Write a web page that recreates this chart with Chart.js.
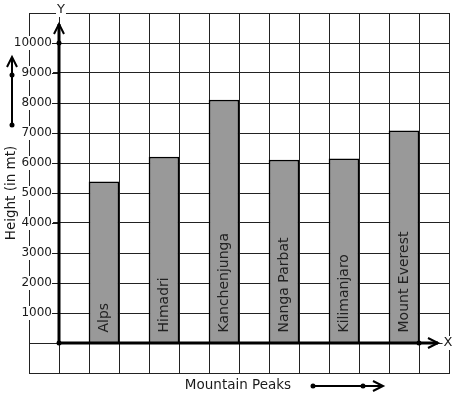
<!DOCTYPE html>
<html>
<head>
<meta charset="utf-8">
<script src="https://cdn.jsdelivr.net/npm/chart.js@4"></script>
<style>
  html, body { margin: 0; padding: 0; background: #fff; }
  #wrap { width: 457px; height: 399px; }
</style>
</head>
<body>
<div id="wrap"><canvas id="peaks"></canvas></div>
<script>
// data
const peaks = ["Alps", "Himadri", "Kanchenjunga", "Nanga Parbat", "Kilimanjaro", "Mount Everest"];
const heights = [5370, 6200, 8100, 6100, 6140, 7070];
const yTicks = [1000, 2000, 3000, 4000, 5000, 6000, 7000, 8000, 9000, 10000];

// graph paper: 14 columns, every second one holds a bar
const slotCount = 14;
const slotLabels = [];
const slotValues = [];
for (let i = 0; i < slotCount; i++) { slotLabels.push(""); slotValues.push(null); }
peaks.forEach(function (p, i) {
  slotLabels[2 + 2 * i] = p;
  slotValues[2 + 2 * i] = heights[i];
});

const FONT = "DejaVu Sans, sans-serif";
const INK = "#1a1a1a";

function dot(ctx, x, y) {
  ctx.beginPath();
  ctx.arc(x, y, 2.5, 0, Math.PI * 2);
  ctx.fill();
}

function chevron(ctx, x, y, dir) {
  ctx.beginPath();
  if (dir === "up") {
    ctx.moveTo(x - 5, y + 10); ctx.lineTo(x, y); ctx.lineTo(x + 5, y + 10);
  } else {
    ctx.moveTo(x - 10, y - 5); ctx.lineTo(x, y); ctx.lineTo(x - 10, y + 5);
  }
  ctx.stroke();
}

function boxedText(ctx, text, x, y, align) {
  ctx.textAlign = align;
  ctx.textBaseline = "middle";
  const w = ctx.measureText(text).width;
  const left = align === "right" ? x - w : (align === "center" ? x - w / 2 : x);
  ctx.fillStyle = "#fff";
  ctx.fillRect(left - 1, y - 7, w + 2, 14);
  ctx.fillStyle = INK;
  ctx.fillText(text, x, y);
}

const overlay = {
  id: "overlay",
  afterDraw: function (chart) {
    const ctx = chart.ctx;
    const xs = chart.scales.x;
    const ys = chart.scales.y;
    const ox = xs.getPixelForValue(0.5);
    const oy = ys.getPixelForValue(0);
    ctx.save();

    // bar names, rotated inside bars
    const meta = chart.getDatasetMeta(0);
    ctx.font = "14px " + FONT;
    ctx.fillStyle = "#222";
    meta.data.forEach(function (bar, i) {
      if (slotValues[i] === null) return;
      ctx.save();
      ctx.translate(bar.x, bar.base - 10);
      ctx.rotate(-Math.PI / 2);
      ctx.textAlign = "left";
      ctx.textBaseline = "middle";
      ctx.fillText(slotLabels[i], 0, 0);
      ctx.restore();
    });

    // y tick labels with little ticks
    ctx.font = "12px " + FONT;
    yTicks.forEach(function (v) {
      const py = ys.getPixelForValue(v);
      boxedText(ctx, String(v), 52, py, "right");
      ctx.strokeStyle = INK;
      ctx.lineWidth = 1;
      ctx.beginPath();
      ctx.moveTo(52, Math.round(py) + 0.5);
      ctx.lineTo(ox, Math.round(py) + 0.5);
      ctx.stroke();
    });

    // axis labels
    ctx.font = "13px " + FONT;
    boxedText(ctx, "Y", ox + 2, 10, "center");
    boxedText(ctx, "X", 448, oy, "center");

    // thick axes
    ctx.strokeStyle = "#000";
    ctx.fillStyle = "#000";
    ctx.lineWidth = 3;
    ctx.beginPath();
    ctx.moveTo(ox, oy); ctx.lineTo(ox, 24);
    ctx.moveTo(ox, oy); ctx.lineTo(438, oy);
    ctx.stroke();
    ctx.lineWidth = 2;
    chevron(ctx, ox, 24, "up");
    chevron(ctx, 438, oy, "right");
    dot(ctx, ox, oy);
    dot(ctx, ox, ys.getPixelForValue(10000));
    dot(ctx, xs.getPixelForValue(12.5), oy);

    // side arrow
    ctx.lineWidth = 2;
    ctx.beginPath();
    ctx.moveTo(12, 125); ctx.lineTo(12, 57);
    ctx.stroke();
    chevron(ctx, 12, 57, "up");
    dot(ctx, 12, 75);
    dot(ctx, 12, 125);

    // bottom arrow
    ctx.beginPath();
    ctx.moveTo(313, 386); ctx.lineTo(382, 386);
    ctx.stroke();
    chevron(ctx, 383, 386, "right");
    dot(ctx, 313, 386);
    dot(ctx, 363, 386);

    // titles
    ctx.fillStyle = INK;
    ctx.font = "13.5px " + FONT;
    ctx.textAlign = "center";
    ctx.textBaseline = "middle";
    ctx.fillText("Mountain Peaks", 238, 385);
    ctx.save();
    ctx.translate(11, 193);
    ctx.rotate(-Math.PI / 2);
    ctx.fillText("Height (in mt)", 0, 0);
    ctx.restore();

    ctx.restore();
  }
};

new Chart(document.getElementById("peaks"), {
  type: "bar",
  data: {
    labels: slotLabels,
    datasets: [{
      data: slotValues,
      backgroundColor: "#999999",
      borderColor: "#000",
      borderWidth: 1.5,
      borderSkipped: "bottom",
      barPercentage: 1,
      categoryPercentage: 1
    }]
  },
  options: {
    responsive: true,
    maintainAspectRatio: false,
    animation: false,
    events: [],
    layout: { padding: { left: 29, right: 8, top: 13, bottom: 26 } },
    plugins: { legend: { display: false }, tooltip: { enabled: false } },
    scales: {
      x: {
        type: "category",
        offset: true,
        grid: { offset: true, color: "#222", lineWidth: 1, drawTicks: false },
        border: { display: true, color: "#222", width: 1 },
        ticks: { display: false }
      },
      y: {
        min: -1000,
        max: 11000,
        grid: { color: "#222", lineWidth: 1, drawTicks: false },
        border: { display: true, color: "#222", width: 1 },
        ticks: { display: false, stepSize: 1000 }
      }
    }
  },
  plugins: [overlay]
});
</script>
</body>
</html>
